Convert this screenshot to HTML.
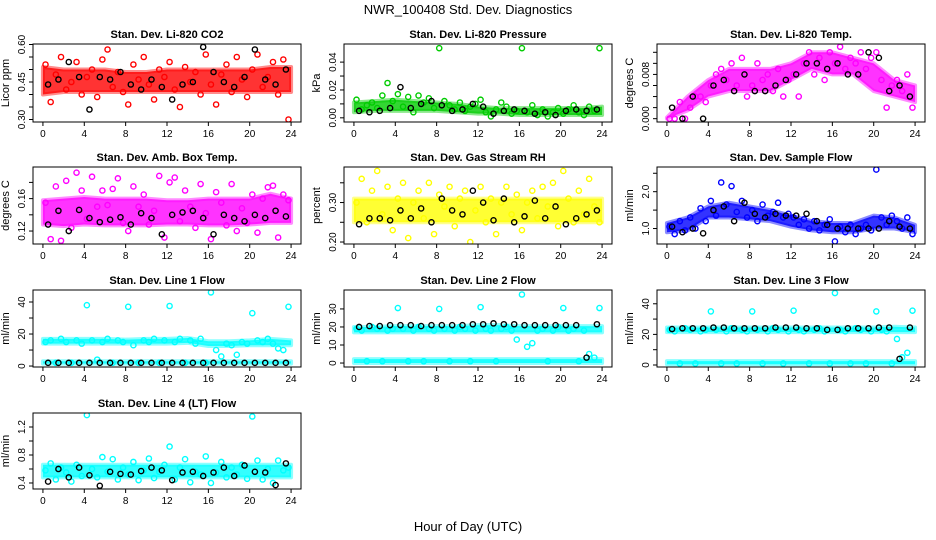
<!DOCTYPE html>
<html><head><meta charset="utf-8">
<style>
html,body{margin:0;padding:0;background:#fff;}
svg{display:block;font-family:"Liberation Sans",sans-serif;}
</style></head>
<body>
<svg id="chart" width="936" height="540" viewBox="0 0 936 540">
<text x="468" y="14" text-anchor="middle" font-size="13">NWR_100408 Std. Dev. Diagnostics</text>
<text x="468" y="531" text-anchor="middle" font-size="13">Hour of Day (UTC)</text>
</svg>
<script>
const HOURS48=[0.25,0.75,1.25,1.75,2.25,2.75,3.25,3.75,4.25,4.75,5.25,5.75,6.25,6.75,7.25,7.75,8.25,8.75,9.25,9.75,10.25,10.75,11.25,11.75,12.25,12.75,13.25,13.75,14.25,14.75,15.25,15.75,16.25,16.75,17.25,17.75,18.25,18.75,19.25,19.75,20.25,20.75,21.25,21.75,22.25,22.75,23.25,23.75];
const HOURS24=[0.5,1.5,2.5,3.5,4.5,5.5,6.5,7.5,8.5,9.5,10.5,11.5,12.5,13.5,14.5,15.5,16.5,17.5,18.5,19.5,20.5,21.5,22.5,23.5];
const BANDHOURS=[0,2,4,6,8,10,12,14,16,18,20,22,24];
const XTICKS=[0,4,8,12,16,20,24];

const co2Main=[0.52,0.37,0.48,0.55,0.42,0.45,0.53,0.40,0.47,0.50,0.39,0.54,0.58,0.43,0.49,0.41,0.36,0.52,0.46,0.55,0.44,0.38,0.50,0.47,0.53,0.42,0.35,0.51,0.45,0.49,0.40,0.56,0.44,0.36,0.48,0.52,0.41,0.55,0.46,0.39,0.50,0.56,0.43,0.47,0.53,0.40,0.54,0.30];
const co2Black=[0.44,0.46,0.53,0.47,0.34,0.47,0.46,0.49,0.44,0.42,0.46,0.43,0.38,0.44,0.45,0.59,0.49,0.45,0.43,0.47,0.58,0.46,0.44,0.50];
const co2Lo=[0.40,0.41,0.41,0.41,0.41,0.41,0.41,0.41,0.41,0.41,0.41,0.41,0.41];
const co2Hi=[0.51,0.50,0.50,0.50,0.49,0.49,0.50,0.50,0.50,0.50,0.50,0.51,0.51];

const presMain=[0.013,0.006,0.009,0.011,0.007,0.016,0.025,0.012,0.017,0.008,0.015,0.004,0.016,0.011,0.014,0.007,0.050,0.012,0.009,0.006,0.011,0.005,0.008,0.010,0.013,0.004,0.001,0.006,0.011,0.008,0.003,0.005,0.050,0.004,0.009,0.002,0.006,0.001,0.004,0.007,0.003,0.006,0.009,0.004,0.002,0.008,0.005,0.050];
const presBlack=[0.005,0.004,0.005,0.007,0.022,0.007,0.010,0.012,0.009,0.005,0.006,0.010,0.008,0.003,0.005,0.006,0.005,0.003,0.004,0.002,0.005,0.006,0.005,0.006];
const presLo=[0.004,0.005,0.005,0.005,0.005,0.004,0.003,0.003,0.002,0.002,0.002,0.002,0.002];
const presHi=[0.011,0.012,0.013,0.012,0.011,0.010,0.008,0.007,0.007,0.007,0.007,0.007,0.008];

const tempMain=[0.000,0.000,0.003,0.000,0.002,0.004,0.004,0.003,0.006,0.008,0.009,0.007,0.010,0.006,0.011,0.004,0.006,0.010,0.007,0.008,0.005,0.009,0.004,0.007,0.008,0.004,0.010,0.012,0.008,0.011,0.007,0.012,0.010,0.013,0.009,0.011,0.010,0.012,0.009,0.011,0.012,0.007,0.002,0.006,0.007,0.005,0.008,0.002];
const tempBlack=[0.002,0.000,0.004,0.000,0.006,0.007,0.005,0.008,0.005,0.005,0.006,0.007,0.008,0.010,0.010,0.009,0.010,0.008,0.008,0.012,0.011,0.005,0.006,0.004];
const tempLo=[0.000,0.0015,0.004,0.005,0.005,0.005,0.007,0.009,0.008,0.008,0.005,0.004,0.003];
const tempHi=[0.0002,0.004,0.007,0.009,0.009,0.009,0.010,0.012,0.012,0.011,0.010,0.007,0.006];

const boxMain=[0.155,0.110,0.175,0.108,0.182,0.124,0.192,0.170,0.135,0.187,0.150,0.170,0.152,0.172,0.185,0.130,0.120,0.175,0.150,0.165,0.128,0.145,0.188,0.112,0.180,0.186,0.132,0.170,0.150,0.124,0.178,0.142,0.110,0.168,0.155,0.127,0.178,0.120,0.148,0.130,0.165,0.118,0.160,0.174,0.176,0.112,0.165,0.158];
const boxBlack=[0.128,0.145,0.120,0.146,0.136,0.131,0.134,0.137,0.128,0.142,0.136,0.116,0.140,0.143,0.145,0.136,0.116,0.140,0.136,0.132,0.140,0.136,0.145,0.138];
const boxLo=[0.128,0.126,0.128,0.127,0.127,0.127,0.128,0.128,0.127,0.127,0.128,0.130,0.130];
const boxHi=[0.158,0.160,0.162,0.160,0.160,0.160,0.158,0.158,0.160,0.160,0.160,0.166,0.160];

const rhMain=[0.30,0.36,0.25,0.33,0.38,0.27,0.34,0.23,0.31,0.35,0.21,0.30,0.33,0.26,0.35,0.22,0.32,0.29,0.34,0.24,0.31,0.33,0.20,0.28,0.34,0.25,0.31,0.22,0.30,0.34,0.27,0.32,0.23,0.30,0.33,0.26,0.34,0.29,0.35,0.24,0.38,0.31,0.25,0.33,0.27,0.36,0.29,0.25];
const rhBlack=[0.245,0.26,0.26,0.255,0.28,0.26,0.285,0.25,0.31,0.28,0.27,0.33,0.30,0.255,0.31,0.25,0.265,0.305,0.26,0.29,0.245,0.26,0.27,0.28];
const rhLo=[0.25,0.25,0.25,0.25,0.25,0.25,0.25,0.25,0.25,0.25,0.25,0.25,0.25];
const rhHi=[0.31,0.31,0.31,0.31,0.31,0.31,0.31,0.31,0.31,0.31,0.31,0.31,0.31];

const flowMain=[1.05,0.85,1.2,0.95,1.3,1.0,1.55,1.2,1.75,1.35,2.25,1.65,2.15,1.45,1.75,1.3,1.5,1.2,1.65,1.35,1.45,1.7,1.3,1.4,1.3,1.1,1.25,1.0,1.2,0.95,1.1,1.25,0.65,1.05,0.9,1.1,0.85,1.0,1.1,0.95,2.6,1.3,1.1,1.35,1.2,1.0,1.3,0.85];
const flowBlack=[1.05,0.9,1.0,0.87,1.5,1.6,1.2,1.7,1.4,1.3,1.4,1.35,1.35,1.4,1.2,1.1,1.0,1.0,1.0,1.0,1.0,1.2,1.05,1.0];
const flowLo=[0.9,0.95,1.3,1.3,1.25,1.2,1.05,0.95,0.9,0.9,1.0,1.0,0.9];
const flowHi=[1.15,1.3,1.6,1.7,1.6,1.5,1.35,1.2,1.15,1.15,1.35,1.3,1.1];

const l1Main=[15,16,2,17,15,2,16,14,38,16,4,15,17,2,16,15,37,13,2,16,15,17,2,16,37.5,15,17,2,16,14,17,2,46,10,6,14,13,7,15,14,33,16,15,17,14,11,10,37];
const l1Black=[2,2,2,2,2,2,2,2,2,2,2,2,2,2,2,2,2,2,2,2,2,2,2,2];
const l1Lo=[14,14,14,14,14,14,14,14.5,12.5,12.5,13,13,13];
const l1Hi=[17,17,17,17,16.5,17,17,17.5,15.5,15.5,16,17,16];
const l1Lo2=[1.5,1.5,1.5,1.5,1.5,1.5,1.5,1.5,1.5,1.5,1.5,1.5,1.5];
const l1Hi2=[3,3,3,3,3,3,3,3,3,3,3,3,3];

const l2Main=[19,18,1,20,19,1,18,19,30.5,19,1,18,20,1,19,18,30,19,1,18,20,19,1,18,31,19,18,1,19,20,18,13,38,9,11,18,19,1,18,20,30.5,18,19,1,18,5,3,30.5];
const l2Black=[20,20.5,20.5,21,21,21,20.5,21,21,21,21,21.5,21.5,22,21.5,21.5,21,21,21,21,21,21,3,21.5];
const l2Lo=[17,17,17,17,17,17,17,17,17,17,17,17,17];
const l2Hi=[20,20,20.5,20.5,20.5,20.5,21,21,20.5,20.5,20.5,20.5,20.5];
const l2Lo2=[0,0,0,0,0,0,0,0,0,0,0,0,0];
const l2Hi2=[2.2,2.2,2.2,2.2,2.2,2.2,2.2,2.2,2.2,2.2,2.2,2.2,2.2];

const l3Main=[23,22,1,24,23,1,22,23,35,23,1,22,24,1,23,22,35,23,1,22,24,23,1,22,35.5,23,22,1,23,24,22,1,47,23,22,1,24,23,1,22,35,23,22,1,17,5,8,35.5];
const l3Black=[23.5,24,24,24,24.5,24.5,24,24,24,24,24.5,24.5,24.5,24,24,23,23,24,24,24,24.5,24.5,4,24.5];
const l3Lo=[21.5,21.5,21.5,21.5,21.5,21.5,21.5,21.5,21.5,21.5,21.5,21.5,21.5];
const l3Hi=[24.5,24.5,24.5,24.5,24.5,24.5,24.5,24.5,24.5,24.5,24.5,25,24.5];
const l3Lo2=[0.5,0.5,0.5,0.5,0.5,0.5,0.5,0.5,0.5,0.5,0.5,0.5,0.5];
const l3Hi2=[2.5,2.5,2.5,2.5,2.5,2.5,2.5,2.5,2.5,2.5,2.5,2.5,2.5];

const l4Main=[0.58,0.68,0.45,0.62,0.55,0.42,0.66,0.50,1.37,0.60,0.48,0.77,0.56,0.74,0.45,0.62,0.52,0.70,0.44,0.58,0.75,0.47,0.56,0.66,0.92,0.45,0.62,0.74,0.41,0.56,0.52,0.78,0.40,0.55,0.70,0.48,0.62,0.52,0.66,0.46,1.35,0.72,0.45,0.60,0.40,0.72,0.58,0.62];
const l4Black=[0.42,0.60,0.48,0.62,0.51,0.36,0.56,0.53,0.52,0.57,0.62,0.58,0.44,0.55,0.56,0.50,0.55,0.62,0.50,0.65,0.56,0.55,0.37,0.68];
const l4Lo=[0.48,0.48,0.48,0.48,0.48,0.48,0.48,0.48,0.48,0.48,0.48,0.48,0.48];
const l4Hi=[0.66,0.66,0.66,0.66,0.66,0.66,0.66,0.66,0.66,0.66,0.66,0.66,0.66];

const SVGNS="http://www.w3.org/2000/svg";
const svg=document.getElementById('chart');
function mk(tag,attrs,parent){const e=document.createElementNS(SVGNS,tag);for(const k in attrs)e.setAttribute(k,attrs[k]);(parent||svg).appendChild(e);return e;}

const COLS=[33,344,657], ROWS=[[44,122],[167,244],[290,367],[413,489]], W=268;
const panels=[
 {name:'co2',title:'Stan. Dev. Li-820 CO2',ylab:'Licor ppm',col:0,row:0,ymin:0.29,ymax:0.602,color:'#ff0000',main:co2Main,black:co2Black,lo:co2Lo,hi:co2Hi,ticks:[0.30,0.35,0.40,0.45,0.50,0.55,0.60],labels:['0.30','0.45','0.60'],lv:[0.30,0.45,0.60]},
 {name:'pressure',title:'Stan. Dev. Li-820 Pressure',ylab:'kPa',col:1,row:0,ymin:-0.003,ymax:0.053,color:'#00cc00',main:presMain,black:presBlack,lo:presLo,hi:presHi,ticks:[0,0.01,0.02,0.03,0.04],labels:['0.00','0.02','0.04'],lv:[0,0.02,0.04]},
 {name:'li820-temp',title:'Stan. Dev. Li-820 Temp.',ylab:'degrees C',col:2,row:0,ymin:-0.0006,ymax:0.0135,color:'#ff00ff',main:tempMain,black:tempBlack,lo:tempLo,hi:tempHi,ticks:[0,0.002,0.004,0.006,0.008,0.010,0.012],labels:['0.000','0.008'],lv:[0,0.008]},
 {name:'amb-box-temp',title:'Stan. Dev. Amb. Box Temp.',ylab:'degrees C',col:0,row:1,ymin:0.104,ymax:0.199,color:'#ff00ff',main:boxMain,black:boxBlack,lo:boxLo,hi:boxHi,ticks:[0.12,0.14,0.16,0.18],labels:['0.12','0.16'],lv:[0.12,0.16]},
 {name:'gas-rh',title:'Stan. Dev. Gas Stream RH',ylab:'percent',col:1,row:1,ymin:0.195,ymax:0.39,color:'#ffff00',main:rhMain,black:rhBlack,lo:rhLo,hi:rhHi,ticks:[0.20,0.25,0.30,0.35],labels:['0.20','0.30'],lv:[0.20,0.30]},
 {name:'sample-flow',title:'Stan. Dev. Sample Flow',ylab:'ml/min',col:2,row:1,ymin:0.58,ymax:2.67,color:'#0000ff',main:flowMain,black:flowBlack,lo:flowLo,hi:flowHi,ticks:[1.0,1.5,2.0,2.5],labels:['1.0','2.0'],lv:[1.0,2.0]},
 {name:'line1-flow',title:'Stan. Dev. Line 1 Flow',ylab:'ml/min',col:0,row:2,ymin:-0.6,ymax:47.5,color:'#00ffff',main:l1Main,black:l1Black,lo:l1Lo,hi:l1Hi,lo2:l1Lo2,hi2:l1Hi2,ticks:[0,10,20,30,40],labels:['0','20','40'],lv:[0,20,40]},
 {name:'line2-flow',title:'Stan. Dev. Line 2 Flow',ylab:'ml/min',col:1,row:2,ymin:-2.2,ymax:40.5,color:'#00ffff',main:l2Main,black:l2Black,lo:l2Lo,hi:l2Hi,lo2:l2Lo2,hi2:l2Hi2,ticks:[0,10,20,30],labels:['0','10','20','30'],lv:[0,10,20,30]},
 {name:'line3-flow',title:'Stan. Dev. Line 3 Flow',ylab:'ml/min',col:2,row:2,ymin:-1.3,ymax:49,color:'#00ffff',main:l3Main,black:l3Black,lo:l3Lo,hi:l3Hi,lo2:l3Lo2,hi2:l3Hi2,ticks:[0,10,20,30,40],labels:['0','20','40'],lv:[0,20,40]},
 {name:'line4-flow',title:'Stan. Dev. Line 4 (LT) Flow',ylab:'ml/min',col:0,row:3,ymin:0.314,ymax:1.4,color:'#00ffff',main:l4Main,black:l4Black,lo:l4Lo,hi:l4Hi,ticks:[0.4,0.6,0.8,1.0,1.2],labels:['0.4','0.8','1.2'],lv:[0.4,0.8,1.2]}
];

panels.forEach(p=>{
  const L=COLS[p.col], T=ROWS[p.row][0], B=ROWS[p.row][1];
  const xs=h=>L+(h+0.96)/25.92*W;
  const ys=v=>B-(v-p.ymin)/(p.ymax-p.ymin)*(B-T);
  const g=mk('g',{});
  
  
  const t=mk('text',{x:L+W/2,y:T-6,'text-anchor':'middle','font-size':'11','font-weight':'bold'},g);
  t.textContent=p.title;
  
  
  const yl=mk('text',{x:0,y:0,'text-anchor':'middle','font-size':'11',transform:`translate(${L-24},${(T+B)/2}) rotate(-90)`},g);
  yl.textContent=p.ylab;
  
  
  const clip='clip-'+p.name;
  const cp=mk('clipPath',{id:clip},g);
  mk('rect',{x:L,y:T,width:W,height:B-T},cp);
  const pg=mk('g',{'clip-path':`url(#${clip})`},g);
  const band=(lo,hi)=>{
    let pts=BANDHOURS.map((h,i)=>xs(h)+','+ys(hi[i]));
    pts=pts.concat(BANDHOURS.map((h,i)=>xs(h)+','+ys(lo[i])).reverse());
    const pl=mk('polygon',{points:pts.join(' '),fill:p.color,'fill-opacity':'0.8',stroke:p.color,'stroke-opacity':'0.45','stroke-width':'4','stroke-linejoin':'round'},pg);
    
    
  };
  band(p.lo,p.hi);
  if(p.lo2) band(p.lo2,p.hi2);
  p.main.forEach((v,i)=>{
    const c=mk('circle',{cx:xs(HOURS48[i]),cy:ys(v),r:2.6,fill:'none',stroke:p.color,'stroke-width':1.4},pg);
    
    
  });
  p.black.forEach((v,i)=>{
    const c=mk('circle',{cx:xs(HOURS24[i]),cy:ys(v),r:2.6,fill:'none',stroke:'#000','stroke-width':1.4},pg);
    
    
  });
  mk('rect',{x:L,y:T,width:W,height:B-T,fill:'none',stroke:'#000','stroke-width':1},g);
  XTICKS.forEach(h=>{
    mk('line',{x1:xs(h),x2:xs(h),y1:B,y2:B+4,stroke:'#000'},g);
    const tx=mk('text',{x:xs(h),y:B+15,'text-anchor':'middle','font-size':'10'},g);
    tx.textContent=String(h);
    
    
  });
  p.ticks.forEach(v=>{
    mk('line',{x1:L-4,x2:L,y1:ys(v),y2:ys(v),stroke:'#000'},g);
  });
  p.lv.forEach((v,i)=>{
    const ty=mk('text',{x:0,y:0,'text-anchor':'middle','font-size':'10',transform:`translate(${L-8},${ys(v)}) rotate(-90)`},g);
    ty.textContent=p.labels[i];
    
    
  });
});
</script>
</body></html>
